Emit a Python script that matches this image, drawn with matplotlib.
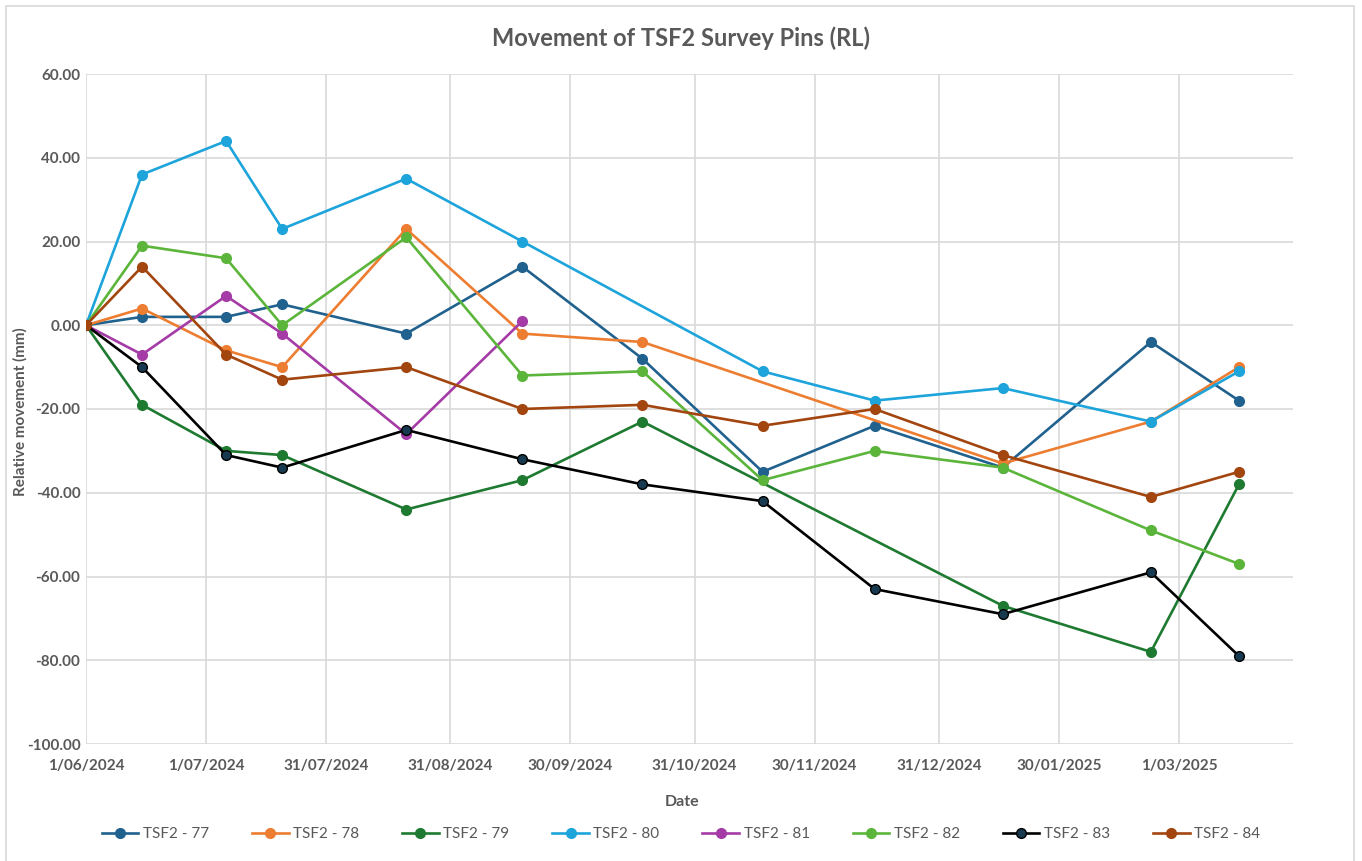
import numpy as np
import pandas as pd
import matplotlib
matplotlib.use('Agg')
import matplotlib.pyplot as plt
import matplotlib.dates as mdates
from matplotlib.patches import Rectangle

plt.rcParams['font.family'] = ['Lato', 'DejaVu Sans']

# survey dates and relative movement (mm) per pin, nan = not surveyed
survey_dates = ['2024-06-01', '2024-06-15', '2024-07-06', '2024-07-20', '2024-08-20', '2024-09-18',
                '2024-10-18', '2024-11-17', '2024-12-15', '2025-01-16', '2025-02-22', '2025-03-16']
nan = np.nan
pin_77 = [0, 2, 2, 5, -2, 14, -8, -35, -24, -34, -4, -18]
pin_78 = [0, 4, -6, -10, 23, -2, -4, nan, nan, -33, -23, -10]
pin_79 = [0, -19, -30, -31, -44, -37, -23, nan, nan, -67, -78, -38]
pin_80 = [0, 36, 44, 23, 35, 20, nan, -11, -18, -15, -23, -11]
pin_81 = [0, -7, 7, -2, -26, 1, nan, nan, nan, nan, nan, nan]
pin_82 = [0, 19, 16, 0, 21, -12, -11, -37, -30, -34, -49, -57]
pin_83 = [0, -10, -31, -34, -25, -32, -38, -42, -63, -69, -59, -79]
pin_84 = [0, 14, -7, -13, -10, -20, -19, -24, -20, -31, -41, -35]

pin_names = ['TSF2 - 77', 'TSF2 - 78', 'TSF2 - 79', 'TSF2 - 80',
             'TSF2 - 81', 'TSF2 - 82', 'TSF2 - 83', 'TSF2 - 84']
pin_values = [pin_77, pin_78, pin_79, pin_80, pin_81, pin_82, pin_83, pin_84]

date_ticks = ['1/06/2024', '1/07/2024', '31/07/2024', '31/08/2024', '30/09/2024', '31/10/2024',
              '30/11/2024', '31/12/2024', '30/01/2025', '1/03/2025']
y_ticks = [-100, -80, -60, -40, -20, 0, 20, 40, 60]

line_colors = ['#20618E', '#ED7D31', '#1F7A31', '#1DA4DB', '#A53BA6', '#5CB53B', '#000000', '#A2450F']
marker_faces = ['#20618E', '#ED7D31', '#1F7A31', '#1DA4DB', '#A53BA6', '#5CB53B', '#183A50', '#A2450F']

text_grey = '#595959'
grid_grey = '#D9D9D9'

W, H = 1362, 861
fig = plt.figure(figsize=(W / 100, H / 100), dpi=100)
fig.patch.set_facecolor('white')

# chart outer border
fig.patches.append(Rectangle((6 / W, -0.01), (1354 - 6) / W, 1 - 6 / H + 0.01,
                             transform=fig.transFigure, fill=False,
                             edgecolor=grid_grey, linewidth=1.2))

ax = fig.add_axes([86 / W, 1 - 744 / H, (1293 - 86) / W, (744 - 74) / H])

dates = pd.to_datetime(survey_dates)
for name, vals, lc, mf in zip(pin_names, pin_values, line_colors, marker_faces):
    s = pd.Series(vals, index=dates).dropna()
    ax.plot(s.index, s.values, color=lc, linewidth=1.9, marker='o', markersize=7,
            markerfacecolor=mf, markeredgecolor=lc, markeredgewidth=1.0, label=name)

tick_dates = pd.to_datetime(date_ticks, dayfirst=True)
ax.set_xticks(tick_dates)
ax.set_xticklabels(date_ticks)
ax.set_xlim(pd.Timestamp('2024-06-01'), pd.Timestamp('2025-03-29 12:00'))
ax.set_ylim(-100, 60)
ax.set_yticks(y_ticks)
ax.set_yticklabels(['%.2f' % v for v in y_ticks])

ax.grid(True, color=grid_grey, linewidth=1.2)
ax.set_axisbelow(True)
for sp in ax.spines.values():
    sp.set_visible(False)
ax.tick_params(length=0, labelsize=11, labelcolor=text_grey)
ax.tick_params(axis='x', pad=11)
ax.tick_params(axis='y', pad=4)
for lab in ax.get_xticklabels() + ax.get_yticklabels():
    lab.set_fontweight('bold')

fig.text(0.5, 1 - 38 / H, 'Movement of TSF2 Survey Pins (RL)', ha='center', va='center',
         fontsize=17, fontweight='bold', color=text_grey)
fig.text(682 / W, 1 - 802 / H, 'Date', ha='center', va='center',
         fontsize=11.5, fontweight='bold', color=text_grey)
fig.text(20 / W, 1 - 412 / H, 'Relative movement (mm)', ha='center', va='center',
         rotation=90, fontsize=11, fontweight='bold', color=text_grey)

leg = fig.legend(loc='center', bbox_to_anchor=(0.5, 1 - 834 / H), ncol=8, frameon=False,
                 fontsize=11, handlelength=2.4, handletextpad=0.3, columnspacing=2.8)
for t in leg.get_texts():
    t.set_color(text_grey)

fig.savefig('out.png', dpi=100, facecolor='white')
